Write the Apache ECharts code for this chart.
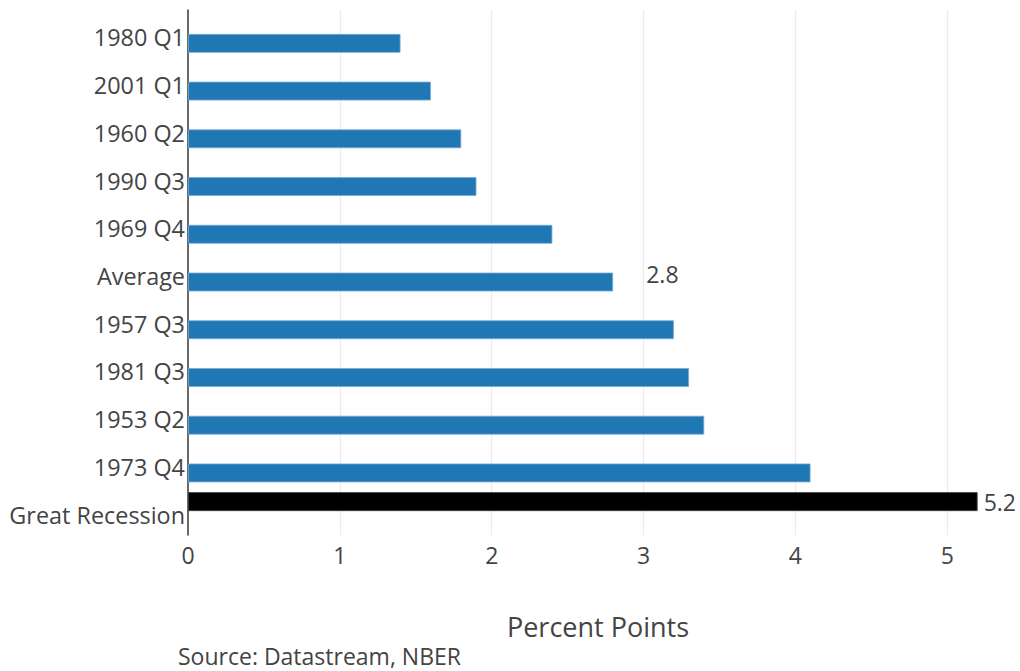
<!DOCTYPE html>
<html>
<head>
<meta charset="utf-8">
<title>Output decline by recession</title>
<script src="https://cdn.jsdelivr.net/npm/echarts@6/dist/echarts.min.js"></script>
<style>
  html, body { margin: 0; padding: 0; background: #ffffff; }
  #chart { width: 1020px; height: 671px; }
</style>
</head>
<body>
<div id="chart"></div>
<script>
// Recession episodes, listed top to bottom
const categories = ['1980 Q1', '2001 Q1', '1960 Q2', '1990 Q3', '1969 Q4', 'Average',
  '1957 Q3', '1981 Q3', '1953 Q2', '1973 Q4', 'Great Recession'];

// Peak-to-trough decline, percent points (earlier recessions)
const episodeValues = [1.4, 1.6, 1.8, 1.9, 2.4, 2.8, 3.2, 3.3, 3.4, 4.1, null];

// Peak-to-trough decline, percent points (Great Recession)
const greatRecessionValues = [null, null, null, null, null, null, null, null, null, null, 5.2];

// Categories whose bar carries a value label
const labelledCategories = ['Average', 'Great Recession'];

const xTickInterval = 1;
const sourceNote = 'Source: Datastream, NBER';
const xAxisTitle = 'Percent Points';

const FONT = '"Open Sans", "Noto Sans", sans-serif';
const TEXT = '#444444';

function fmt(v) { return (Math.round(v * 10) / 10).toFixed(1); }

function buildData(values, labelOpts) {
  return values.map((v, i) => {
    if (v === null) return null;
    if (labelledCategories.indexOf(categories[i]) >= 0) {
      return { value: v, label: Object.assign({ show: true }, labelOpts) };
    }
    return v;
  });
}

const valueLabelBase = {
  position: 'right',
  color: TEXT,
  fontFamily: FONT,
  fontSize: 23,
  formatter: (p) => fmt(p.value)
};

const chart = echarts.init(document.getElementById('chart'), null, { renderer: 'svg' });

chart.setOption({
  animation: false,
  backgroundColor: '#ffffff',
  grid: { left: 188, right: 12, top: 10, bottom: 136, containLabel: false },
  xAxis: {
    type: 'value',
    min: 0,
    max: 5.4,
    interval: xTickInterval,
    name: xAxisTitle,
    nameLocation: 'middle',
    nameGap: 78,
    nameTextStyle: { color: TEXT, fontFamily: FONT, fontSize: 27 },
    axisLine: { show: false },
    axisTick: { show: false },
    axisLabel: {
      color: TEXT, fontFamily: FONT, fontSize: 23, margin: 8,
      showMaxLabel: false,
      formatter: (v) => String(v)
    },
    splitLine: {
      show: true,
      showMinLine: false,
      showMaxLine: false,
      lineStyle: { color: '#ebebeb', width: 1.2 }
    }
  },
  yAxis: {
    type: 'category',
    data: categories,
    inverse: true,
    axisTick: { show: false },
    axisLine: { show: true, lineStyle: { color: '#444444', width: 1.6 } },
    axisLabel: {
      color: TEXT, fontFamily: FONT, fontSize: 23.4, margin: 3,
      // category names sit slightly below the centre of each bar pair
      verticalAlign: 'top',
      lineHeight: 7
    },
    splitLine: { show: false }
  },
  series: [
    {
      name: 'Great Recession',
      type: 'bar',
      barWidth: 19,
      barGap: '0%',
      itemStyle: { color: '#000000', borderColor: '#3c3c3c', borderWidth: 1 },
      data: buildData(greatRecessionValues, Object.assign({}, valueLabelBase, { distance: 6 }))
    },
    {
      name: 'Earlier recessions',
      type: 'bar',
      barWidth: 19,
      barGap: '0%',
      itemStyle: { color: '#1f77b4', borderColor: 'rgba(120,170,215,0.8)', borderWidth: 1 },
      data: buildData(episodeValues, Object.assign({}, valueLabelBase, { distance: 33, offset: [0, -8] }))
    }
  ],
  graphic: [
    {
      type: 'text',
      left: 178,
      top: 644,
      style: { text: sourceNote, fill: TEXT, font: '23px ' + FONT }
    }
  ]
});
</script>
</body>
</html>
